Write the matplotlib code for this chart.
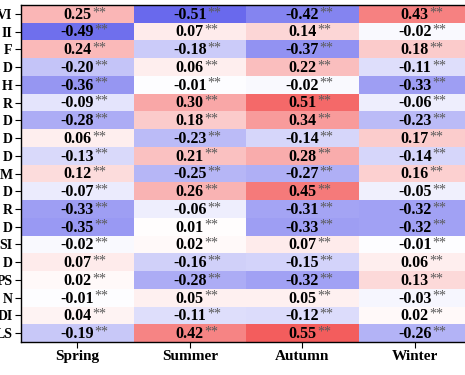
import numpy as np
import matplotlib
matplotlib.use("Agg")
import matplotlib.pyplot as plt
from matplotlib.colors import LinearSegmentedColormap

plt.rcParams['font.family'] = ['Liberation Serif', 'DejaVu Serif']

# etiquetas (recortadas en la imagen original)
filas = ["VI", "II", "F", "D", "H", "R", "D", "D", "D", "M", "D", "R", "D",
         "SI", "D", "PS", "N", "DI", "LS"]
estaciones = ["Spring", "Summer", "Autumn", "Winter"]

spring = [0.25, -0.49, 0.24, -0.20, -0.36, -0.09, -0.28, 0.06, -0.13, 0.12,
          -0.07, -0.33, -0.35, -0.02, 0.07, 0.02, -0.01, 0.04, -0.19]
summer = [-0.51, 0.07, -0.18, 0.06, -0.01, 0.30, 0.18, -0.23, 0.21, -0.25,
          0.26, -0.06, 0.01, 0.02, -0.16, -0.28, 0.05, -0.11, 0.42]
autumn = [-0.42, 0.14, -0.37, 0.22, -0.02, 0.51, 0.34, -0.14, 0.28, -0.27,
          0.45, -0.31, -0.33, 0.07, -0.15, -0.32, 0.05, -0.12, 0.55]
winter = [0.43, -0.02, 0.18, -0.11, -0.33, -0.06, -0.23, 0.17, -0.14, 0.16,
          -0.05, -0.32, -0.32, -0.01, 0.06, 0.13, -0.03, 0.02, -0.26]

datos = np.array([spring, summer, autumn, winter]).T

# mapa de color azul-blanco-rojo
cmap = LinearSegmentedColormap.from_list("abr", ["#3232e6", "white", "#f03232"])

fig = plt.figure(figsize=(4.65, 3.75), dpi=100)
ax = fig.add_axes([21/465, 33/375, 450/465, 337/375])
ax.pcolormesh(datos, cmap=cmap, vmin=-0.7, vmax=0.7)
ax.set_xlim(0, 4)
ax.set_ylim(len(filas), 0)

# valores con asteriscos
for i in range(len(filas)):
    for j in range(len(estaciones)):
        t = ax.text(j + 0.5, i + 0.55, f"{datos[i, j]:.2f}", ha='center', va='center',
                    fontsize=11.5, fontweight='bold', color='black')
        ax.annotate("**", xy=(1, 1), xycoords=t, xytext=(0.5, 0.5), textcoords='offset points',
                    ha='left', va='top', fontsize=10, color='#5a5a5a')

ax.set_xticks(np.arange(len(estaciones)) + 0.5)
ax.set_xticklabels(estaciones, fontsize=11, fontweight='bold')
ax.set_yticks(np.arange(len(filas)) + 0.5)
ax.set_yticklabels(filas, fontsize=10, fontweight='bold')
ax.tick_params(length=4, width=0.8, pad=2)
for s in ax.spines.values():
    s.set_linewidth(1.0)

fig.savefig("out.png", dpi=100)
